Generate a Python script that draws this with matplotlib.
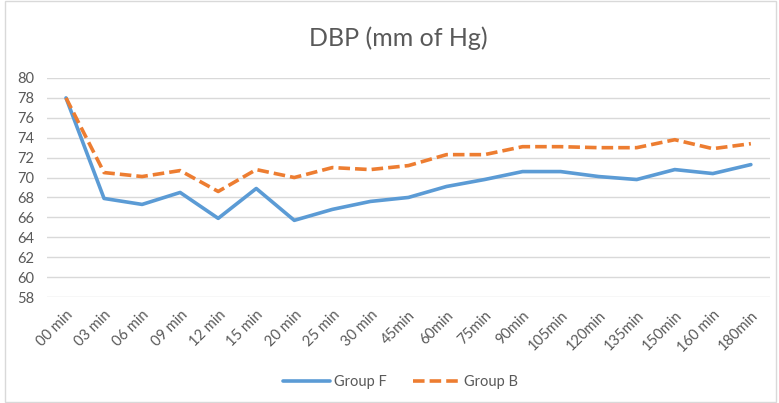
import matplotlib
matplotlib.use("Agg")
import matplotlib.pyplot as plt
from matplotlib.patches import Rectangle

categories = ['00 min', '03 min', '06 min', '09 min', '12 min', '15 min', '20 min',
              '25 min', '30 min', '45min', '60min', '75min', '90min', '105min',
              '120min', '135min', '150min', '160 min', '180min']
group_f = [78.0, 67.9, 67.3, 68.5, 65.9, 68.9, 65.7, 66.8, 67.6, 68.0,
           69.1, 69.8, 70.6, 70.6, 70.1, 69.8, 70.8, 70.4, 71.3]
group_b = [78.0, 70.5, 70.1, 70.7, 68.6, 70.8, 70.0, 71.0, 70.8, 71.2,
           72.3, 72.3, 73.1, 73.1, 73.0, 73.0, 73.8, 72.9, 73.4]
y_ticks = list(range(58, 81, 2))

plt.rcParams['font.family'] = ['Lato', 'DejaVu Sans']
grey = '#595959'

fig = plt.figure(figsize=(7.79, 4.03), dpi=100)
ax = fig.add_axes([0.0603, 0.263, 0.928, 0.5435])

x = list(range(len(categories)))
ax.plot(x, group_f, color='#5B9BD5', lw=2.6, label='Group F', solid_capstyle='round')
ax.plot(x, group_b, color='#ED7D31', lw=2.6, ls=(0, (3.2, 1.4)), label='Group B')

ax.set_xlim(-0.5, len(categories) - 0.5)
ax.set_ylim(58, 80)
ax.set_yticks(y_ticks)
ax.set_xticks(x)
ax.set_xticklabels(categories, rotation=45, ha='right', rotation_mode='anchor')
ax.tick_params(axis='both', length=0, colors=grey, labelsize=10.5)
ax.tick_params(axis='x', pad=8)
ax.tick_params(axis='y', pad=9)
ax.grid(axis='y', color='#D9D9D9', lw=1)
ax.set_axisbelow(True)
for s in ax.spines.values():
    s.set_visible(False)

fig.text(0.511, 0.906, 'DBP (mm of Hg)', ha='center', va='center', fontsize=18, color=grey)
fig.legend(loc='center', bbox_to_anchor=(0.514, 0.052), ncol=2, frameon=False,
           fontsize=10.5, labelcolor=grey, handlelength=3.2, handletextpad=0.3,
           columnspacing=1.8)

fig.patches.append(Rectangle((0.006, 0.002), 0.99, 0.996, transform=fig.transFigure,
                             fill=False, edgecolor='#D9D9D9', lw=1))

fig.savefig('out.png', dpi=100)
